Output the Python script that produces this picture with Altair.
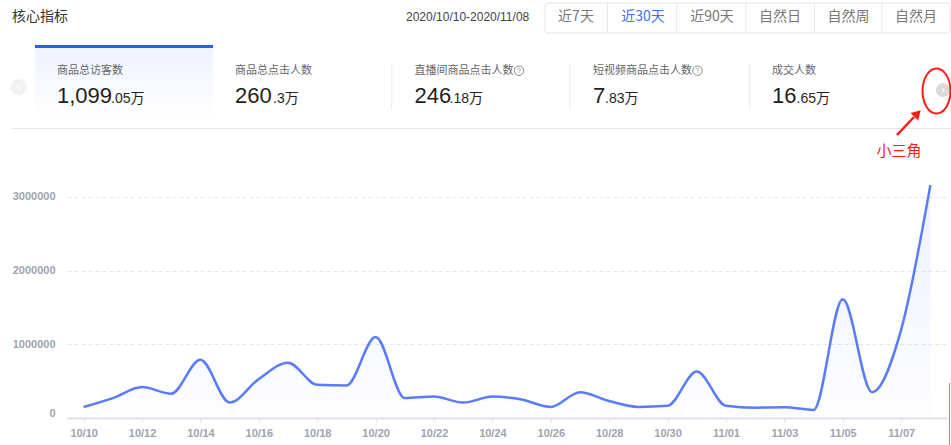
import altair as alt
import pandas as pd

# ---------------- data ----------------
dates = ["10/10", "10/11", "10/12", "10/13", "10/14", "10/15", "10/16", "10/17",
         "10/18", "10/19", "10/20", "10/21", "10/22", "10/23", "10/24", "10/25",
         "10/26", "10/27", "10/28", "10/29", "10/30", "10/31", "11/01", "11/02",
         "11/03", "11/04", "11/05", "11/06", "11/07", "11/08"]
visitors = [150000, 270000, 420000, 330000, 790000, 210000, 530000, 750000,
            450000, 440000, 1100000, 270000, 290000, 210000, 290000, 250000,
            150000, 350000, 230000, 150000, 165000, 630000, 165000, 140000,
            145000, 110000, 1610000, 350000, 1200000, 3160000]
x_tick_labels = ["10/10", "10/12", "10/14", "10/16", "10/18", "10/20", "10/22",
                 "10/24", "10/26", "10/28", "10/30", "11/01", "11/03", "11/05", "11/07"]
y_ticks = [0, 1000000, 2000000, 3000000]

title_text = "核心指标"
date_range = "2020/10/10-2020/11/08"
range_buttons = ["近7天", "近30天", "近90天", "自然日", "自然周", "自然月"]
active_button = "近30天"
card_labels = ["商品总访客数", "商品总点击人数", "直播间商品点击人数", "短视频商品点击人数", "成交人数"]
card_help = [False, False, True, True, False]
card_int = ["1,099", "260", "246", "7", "16"]
card_dec = [".05万", ".3万", ".18万", ".83万", ".65万"]
note_text = "小三角"

# ---------------- layout ----------------
L, T, R, B = 67, 160, 4, 27
W, H = 951 - L - R, 445 - T - B

FONT = "Liberation Sans, Noto Sans CJK SC, sans-serif"
CJK = "Noto Sans CJK SC, Liberation Sans, sans-serif"

one = pd.DataFrame({"k": [0]})


def X(v):
    return alt.value(v - L)


def Y(v):
    return alt.value(v - T)


def txt(s, x, y, size=12, color="#666666", align="left", baseline="middle", font=CJK, weight="normal"):
    return alt.Chart(one).mark_text(text=s, align=align, baseline=baseline, fontSize=size,
                                    color=color, font=font, fontWeight=weight).encode(x=X(x), y=Y(y))


def rule(x1, y1, x2, y2, color="#e8e8e8", width=1):
    return alt.Chart(one).mark_rule(color=color, strokeWidth=width).encode(
        x=X(x1), y=Y(y1), x2=X(x2), y2=Y(y2))


def rect(x1, y1, x2, y2, **kw):
    return alt.Chart(one).mark_rect(**kw).encode(x=X(x1), y=Y(y1), x2=X(x2), y2=Y(y2))


def pt(x, y, **kw):
    return alt.Chart(one).mark_point(**kw).encode(x=X(x), y=Y(y))


# ---------------- main chart ----------------
df = pd.DataFrame({"date": dates, "value": visitors})

xenc = alt.X("date:O", sort=None,
             scale=alt.Scale(type="point", padding=0.57, domain=dates),
             axis=alt.Axis(values=x_tick_labels, title=None, labelAngle=0, grid=False,
                           domainColor="#dfe2ea", domainWidth=2, tickColor="#dfe2ea",
                           tickSize=4, labelColor="#9ea3af", labelFontSize=11,
                           labelFontWeight="bold", labelFont="Liberation Sans",
                           labelPadding=5))
yenc = alt.Y("value:Q", scale=alt.Scale(domain=[0, 3500000], nice=False),
             axis=alt.Axis(values=y_ticks, title=None, format="d", domain=False, ticks=False,
                           grid=True, gridDash=[4, 3], gridColor="#e4e6ec",
                           labelColor="#9ea3af", labelFontSize=11, labelFontWeight="bold",
                           labelFont="Liberation Sans", labelPadding=12,
                           labelBaseline={"condition": {"test": "datum.value == 0", "value": "bottom"},
                                          "value": "middle"}))

area = alt.Chart(df).mark_area(
    interpolate="monotone",
    color=alt.Gradient(gradient="linear",
                       stops=[alt.GradientStop(color="rgba(91,124,250,0.10)", offset=0),
                              alt.GradientStop(color="rgba(91,124,250,0.01)", offset=1)],
                       x1=1, x2=1, y1=0, y2=1)
).encode(x=xenc, y=yenc)
line = alt.Chart(df).mark_line(interpolate="monotone", color="#5b7cfa", strokeWidth=2.5).encode(
    x=xenc, y=yenc)

layers = [area, line]

# ---------------- header ----------------
layers.append(txt(title_text, 12, 17, size=14, color="#333333"))
layers.append(txt(date_range, 406, 17, size=12, color="#444444", font=FONT))
layers.append(rect(545, 3, 950, 33, fill="white", stroke="#e4e4e4", strokeWidth=1, cornerRadius=3))
btn_div = [607.6, 676.7, 746, 814.5, 882]
for d in btn_div:
    layers.append(rule(d, 3, d, 33, color="#e8e8e8"))
btn_cx = [576, 643, 712, 780, 848.6, 916]
for b, cx in zip(range_buttons, btn_cx):
    layers.append(txt(b, cx, 17, size=14, align="center",
                      color="#3d6cff" if b == active_button else "#777777"))

# ---------------- cards ----------------
layers.append(rect(35, 48, 213, 120, color=alt.Gradient(
    gradient="linear",
    stops=[alt.GradientStop(color="#eff3ff", offset=0), alt.GradientStop(color="#ffffff", offset=1)],
    x1=0, x2=0, y1=0, y2=1)))
layers.append(rect(35, 45, 213, 48, color="#2563ff"))
for sx in [391.7, 570, 749.7]:
    layers.append(rule(sx, 63, sx, 110, color="#ebebeb"))
layers.append(rule(12, 128.5, 951, 128.5, color="#e6e6e6"))

label_x = [57, 235, 414.5, 593, 772]
dec_x = [111, 273, 449.5, 605, 796.5]
help_x = [None, None, 519, 697.5, None]
for lab, hx, lx in zip(card_labels, help_x, label_x):
    layers.append(txt(lab, lx, 70.7, size=11, color="#666666"))
    if hx is not None:
        layers.append(pt(hx, 70.7, shape="circle", filled=False, size=90, color="#888888",
                         strokeWidth=1, opacity=1))
        layers.append(txt("?", hx, 71, size=7, color="#888888", align="center", font=FONT))
for iv, dv, lx, dx in zip(card_int, card_dec, label_x, dec_x):
    layers.append(txt(iv, lx, 103, size=22, color="#1f1f1f", baseline="alphabetic", font=FONT))
    layers.append(txt(dv, dx, 103, size=14, color="#1f1f1f", baseline="alphabetic", font=FONT))

# carousel arrows
layers.append(pt(19, 87, shape="circle", filled=True, size=256, color="#f2f2f2", opacity=1))
layers.append(txt("‹", 19, 87, size=12, color="#ffffff", align="center", font=FONT))
layers.append(pt(943, 90, shape="circle", filled=True, size=200, color="#d9d9d9", opacity=1))
layers.append(txt("›", 943, 89.5, size=11, color="#ffffff", align="center", font=FONT))

# ---------------- red annotation ----------------
RED = "#ff1a12"
ellipse = "M -0.62 0 A 0.62 1 0 1 0 0.62 0 A 0.62 1 0 1 0 -0.62 0 Z"
layers.append(pt(936.5, 91, shape=ellipse, filled=False, size=2025, color=RED,
                 strokeWidth=2, opacity=1))
layers.append(rule(897, 135, 914, 117, color=RED, width=2.5))
layers.append(pt(917.5, 113.5, shape="triangle-up", filled=True, size=110, angle=44,
                 color=RED, opacity=1))
layers.append(txt(note_text, 899, 151, size=15, color=RED, align="center"))

# right-edge blue line
layers.append(rule(949.5, 383, 949.5, 445, color="#6f9dff", width=1))

chart = alt.layer(*layers).properties(
    width=W, height=H,
    padding={"left": L, "top": T, "right": R, "bottom": B},
    autosize=alt.AutoSizeParams(type="none"),
    background="white",
).configure_view(stroke=None)

chart.save("out.html", embed_options={"renderer": "svg", "actions": False})
